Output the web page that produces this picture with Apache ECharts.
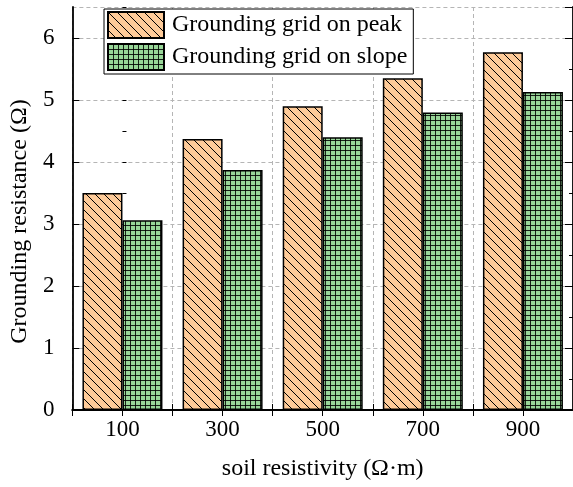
<!DOCTYPE html>
<html lang="en">
<head>
<meta charset="UTF-8">
<title>Grounding resistance</title>
<script src="https://cdn.jsdelivr.net/npm/echarts@6/dist/echarts.min.js"></script>
<style>
  html, body { margin: 0; padding: 0; background: #fff; }
  #main { width: 573px; height: 487px; }
</style>
</head>
<body>
<div id="main"></div>
<script>
// data
var resistivity = ['100', '300', '500', '700', '900'];
var peakValues = [3.50, 4.37, 4.90, 5.35, 5.77];
var slopeValues = [3.06, 3.87, 4.40, 4.80, 5.13];
var seriesNames = ['Grounding grid on peak', 'Grounding grid on slope'];

var FONT = '"Liberation Serif", "Times New Roman", serif';

// hatch fill for the "peak" bars
function hatchPattern() {
    var c = document.createElement('canvas');
    c.width = 9; c.height = 9;
    var ctx = c.getContext('2d');
    ctx.fillStyle = '#fecb99';
    ctx.fillRect(0, 0, 9, 9);
    ctx.strokeStyle = '#000';
    ctx.lineWidth = 1;
    ctx.beginPath();
    ctx.moveTo(-1, -1); ctx.lineTo(10, 10);
    ctx.moveTo(-1, 8); ctx.lineTo(1, 10);
    ctx.moveTo(8, -1); ctx.lineTo(10, 1);
    ctx.stroke();
    return c;
}

// small square grid fill for the "slope" bars
function gridPattern() {
    var c = document.createElement('canvas');
    c.width = 5; c.height = 5;
    var ctx = c.getContext('2d');
    ctx.fillStyle = '#98d698';
    ctx.fillRect(0, 0, 5, 5);
    ctx.fillStyle = 'rgba(0,0,0,0.85)';
    ctx.fillRect(0, 0, 5, 1);
    ctx.fillRect(0, 0, 1, 5);
    return c;
}

var chart = echarts.init(document.getElementById('main'));

var dashLine = { show: true, lineStyle: { color: '#b5b5b5', type: [4, 3], width: 1 } };
var blackLine = { show: true, lineStyle: { color: '#000', width: 1.8 } };

var option = {
    backgroundColor: '#fff',
    animation: false,
    grid: { left: 71, right: -2, top: 7, bottom: 77 },
    legend: {
        orient: 'vertical',
        left: 104, top: 9,
        icon: 'rect',
        itemWidth: 56, itemHeight: 26, itemGap: 4,
        padding: [2, 6, 3, 3],
        backgroundColor: '#fff',
        borderColor: '#000', borderWidth: 1,
        textStyle: { fontFamily: FONT, fontSize: 24, color: '#000', padding: [0, 0, 0, 3] },
        data: seriesNames
    },
    xAxis: [
        {
            type: 'category', position: 'bottom', data: resistivity,
            axisLine: blackLine,
            axisTick: { show: true, inside: true, length: 6, lineStyle: { color: '#000' } },
            axisLabel: { fontFamily: FONT, fontSize: 23, color: '#000', margin: 8 },
            splitLine: { show: false },
            name: 'soil resistivity (\u03A9\u00B7m)', nameLocation: 'middle', nameGap: 47,
            nameTextStyle: { fontFamily: FONT, fontSize: 24, color: '#000' }
        },
        {
            // top frame with ticks at centres and boundaries
            type: 'value', position: 'top', min: 0, max: 10, interval: 1,
            axisLine: blackLine,
            axisTick: { show: true, inside: true, length: 6, lineStyle: { color: '#000' } },
            axisLabel: { show: false },
            splitLine: { show: false }
        },
        {
            // vertical dashed grid at category centres
            type: 'value', position: 'bottom', min: -0.5, max: 4.5, interval: 1,
            axisLine: { show: false }, axisTick: { show: false }, axisLabel: { show: false },
            splitLine: dashLine
        }
    ],
    yAxis: [
        {
            type: 'value', position: 'left', min: 0, max: 6.5, interval: 1,
            axisLine: blackLine,
            axisTick: { show: true, inside: true, length: 7, lineStyle: { color: '#000' } },
            axisLabel: { fontFamily: FONT, fontSize: 23, color: '#000', margin: 18, showMaxLabel: false },
            splitLine: dashLine,
            name: 'Grounding resistance (\u03A9)', nameLocation: 'middle', nameGap: 36,
            nameTextStyle: { fontFamily: FONT, fontSize: 24, color: '#000', padding: [0, 26, 0, 0] }
        },
        {
            type: 'value', position: 'left', min: 0, max: 6.5, interval: 0.5,
            axisLine: { show: false },
            axisTick: { show: true, inside: true, length: 4, lineStyle: { color: '#000' } },
            axisLabel: { show: false }, splitLine: { show: false }
        },
        {
            type: 'value', position: 'right', min: 0, max: 6.5, interval: 1,
            axisLine: blackLine,
            axisTick: { show: true, inside: true, length: 8, lineStyle: { color: '#000' } },
            axisLabel: { show: false }, splitLine: { show: false }
        },
        {
            type: 'value', position: 'right', min: 0, max: 6.5, interval: 0.5,
            axisLine: { show: false },
            axisTick: { show: true, inside: true, length: 4, lineStyle: { color: '#000' } },
            axisLabel: { show: false }, splitLine: { show: false }
        }
    ],
    series: [
        {
            name: seriesNames[0], type: 'bar', xAxisIndex: 0, yAxisIndex: 0,
            barWidth: 40, barGap: '0%',
            itemStyle: { color: { image: hatchPattern(), repeat: 'repeat' }, borderColor: '#000', borderWidth: 1.5 },
            data: peakValues
        },
        {
            name: seriesNames[1], type: 'bar', xAxisIndex: 0, yAxisIndex: 0,
            barWidth: 40, barGap: '0%',
            itemStyle: { color: { image: gridPattern(), repeat: 'repeat' }, borderColor: '#000', borderWidth: 1.5 },
            data: slopeValues
        }
    ]
};

chart.setOption(option);
</script>
</body>
</html>
